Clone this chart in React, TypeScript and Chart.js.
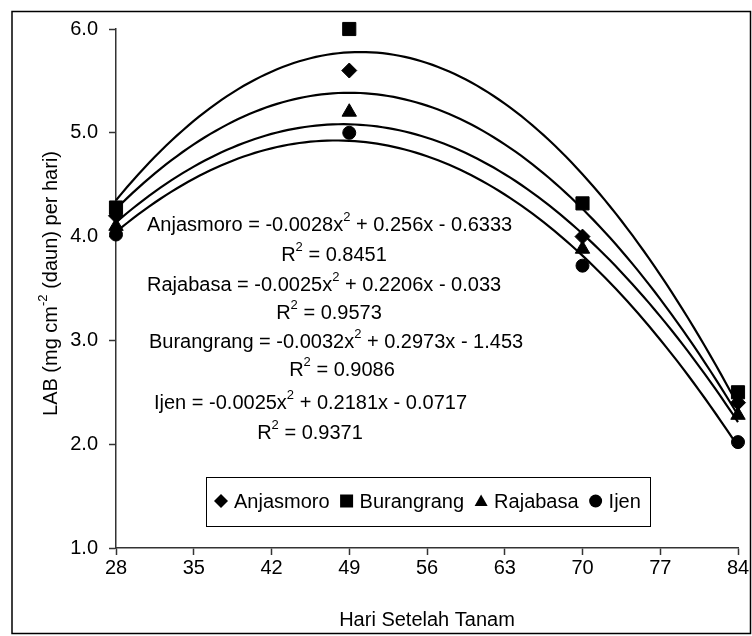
import React, { useEffect, useRef } from 'react';
import { Chart, registerables } from 'chart.js';

Chart.register(...registerables);

// ---- data ----
const days = [28, 49, 70, 84];
const anjasmoro = [4.2, 5.6, 4.0, 2.4];
const burangrang = [4.28, 6.0, 4.32, 2.5];
const rajabasa = [4.1, 5.2, 3.88, 2.28];
const ijen = [4.02, 5.0, 3.72, 2.02];

const seriesNames = ['Anjasmoro', 'Burangrang', 'Rajabasa', 'Ijen'];
const seriesValues = [anjasmoro, burangrang, rajabasa, ijen];
const pointStyles = ['rectRot', 'rect', 'triangle', 'circle'];
const pointRadii = [7.5, 9.3, 8.3, 6.5];

const xTicks = [28, 35, 42, 49, 56, 63, 70, 77, 84];
const yTicks = [1, 2, 3, 4, 5, 6];

// equation annotations as printed in the reference
const eqNames = ['Anjasmoro', 'Rajabasa', 'Burangrang', 'Ijen'];
const eqA = ['-0.0028', '-0.0025', '-0.0032', '-0.0025'];
const eqB = ['0.256', '0.2206', '0.2973', '0.2181'];
const eqC = ['0.6333', '0.033', '1.453', '0.0717'];
const eqR2 = ['0.8451', '0.9573', '0.9086', '0.9371'];

const yTitleMain = 'LAB (mg cm';
const yTitleSup = '-2';
const yTitleEnd = ' (daun) per hari)';
const xTitle = 'Hari Setelah Tanam';

const FONT = '"Liberation Sans", Arial, Helvetica, sans-serif';

// least-squares quadratic fit (Excel polynomial trendline, order 2)
function quadFit(xs: number[], ys: number[]) {
  let s0 = 0, s1 = 0, s2 = 0, s3 = 0, s4 = 0, t0 = 0, t1 = 0, t2 = 0;
  for (let i = 0; i < xs.length; i++) {
    const x = xs[i], y = ys[i];
    s0 += 1; s1 += x; s2 += x * x; s3 += x * x * x; s4 += x * x * x * x;
    t0 += y; t1 += x * y; t2 += x * x * y;
  }
  const M = [
    [s4, s3, s2, t2],
    [s3, s2, s1, t1],
    [s2, s1, s0, t0],
  ];
  for (let c = 0; c < 3; c++) {
    let p = c;
    for (let r = c + 1; r < 3; r++) if (Math.abs(M[r][c]) > Math.abs(M[p][c])) p = r;
    [M[c], M[p]] = [M[p], M[c]];
    for (let r = 0; r < 3; r++) {
      if (r === c) continue;
      const f = M[r][c] / M[c][c];
      for (let k = c; k < 4; k++) M[r][k] -= f * M[c][k];
    }
  }
  const a = M[0][3] / M[0][0], b = M[1][3] / M[1][1], c = M[2][3] / M[2][2];
  return (x: number) => a * x * x + b * x + c;
}

function trendPoints(ys: number[]) {
  const f = quadFit(days, ys);
  const pts: { x: number; y: number }[] = [];
  const x0 = days[0], x1 = days[days.length - 1];
  for (let x = x0; x <= x1 + 1e-9; x += 0.5) pts.push({ x, y: f(x) });
  return pts;
}

type Part = [string, boolean];
function drawParts(ctx: CanvasRenderingContext2D, parts: Part[], x: number, y: number, align: 'left' | 'center') {
  const main = `20px ${FONT}`;
  const sup = `13px ${FONT}`;
  let total = 0;
  const widths = parts.map(([t, s]) => {
    ctx.font = s ? sup : main;
    const w = ctx.measureText(t).width;
    total += w;
    return w;
  });
  let cx = align === 'center' ? x - total / 2 : x;
  ctx.textAlign = 'left';
  ctx.textBaseline = 'middle';
  parts.forEach(([t, s], i) => {
    ctx.font = s ? sup : main;
    ctx.fillText(t, cx, s ? y - 8 : y);
    cx += widths[i];
  });
}

function drawMarker(ctx: CanvasRenderingContext2D, style: string, cx: number, cy: number, size: number) {
  ctx.beginPath();
  const h = size / 2;
  if (style === 'rect') {
    ctx.rect(cx - h, cy - h, size, size);
  } else if (style === 'rectRot') {
    ctx.moveTo(cx - h, cy); ctx.lineTo(cx, cy - h); ctx.lineTo(cx + h, cy); ctx.lineTo(cx, cy + h);
    ctx.closePath();
  } else if (style === 'triangle') {
    ctx.moveTo(cx, cy - h); ctx.lineTo(cx + h, cy + h * 0.75); ctx.lineTo(cx - h, cy + h * 0.75);
    ctx.closePath();
  } else {
    ctx.arc(cx, cy, h, 0, Math.PI * 2);
  }
  ctx.fill();
}

const decorPlugin = {
  id: 'decor',
  beforeDraw(chart: any) {
    const ctx = chart.ctx as CanvasRenderingContext2D;
    ctx.save();
    ctx.fillStyle = '#fff';
    ctx.fillRect(0, 0, chart.width, chart.height);
    ctx.strokeStyle = '#000';
    ctx.lineWidth = 1.5;
    ctx.strokeRect(12, 11.5, 738.5, 622);
    ctx.restore();
  },
  afterDraw(chart: any) {
    const ctx = chart.ctx as CanvasRenderingContext2D;
    const area = chart.chartArea;
    ctx.save();
    ctx.fillStyle = '#000';

    // y axis title with superscript, rotated
    ctx.save();
    ctx.translate(51, (area.top + area.bottom) / 2 - 5);
    ctx.rotate(-Math.PI / 2);
    drawParts(ctx, [[yTitleMain, false], [yTitleSup, true], [yTitleEnd, false]], 0, 0, 'center');
    ctx.restore();

    // equations
    const eqLeft = [147, 147, 149, 154];
    const eqY = [225, 285, 342, 403];
    const r2X = [334, 329, 342, 310];
    const r2Y = [255, 313, 370, 433];
    for (let i = 0; i < eqNames.length; i++) {
      drawParts(ctx, [
        [`${eqNames[i]} = ${eqA[i]}x`, false], ['2', true],
        [` + ${eqB[i]}x - ${eqC[i]}`, false],
      ], eqLeft[i], eqY[i], 'left');
      drawParts(ctx, [['R', false], ['2', true], [` = ${eqR2[i]}`, false]], r2X[i], r2Y[i], 'center');
    }

    // legend box
    const bx = 206.5, by = 477.5, bw = 444, bh = 49;
    ctx.fillStyle = '#fff';
    ctx.fillRect(bx, by, bw, bh);
    ctx.strokeStyle = '#000';
    ctx.lineWidth = 1;
    ctx.strokeRect(bx, by, bw, bh);
    ctx.fillStyle = '#000';
    ctx.font = `20px ${FONT}`;
    ctx.textBaseline = 'middle';
    ctx.textAlign = 'left';
    let x = 214;
    const cy = 501;
    for (let i = 0; i < seriesNames.length; i++) {
      const ms = seriesNames[i] === 'Anjasmoro' ? 14 : 13;
      drawMarker(ctx, pointStyles[i], x + 7, cy, ms);
      x += 14 + 6;
      ctx.font = `20px ${FONT}`;
      ctx.fillText(seriesNames[i], x, cy + 1);
      x += ctx.measureText(seriesNames[i]).width + 10;
    }
    ctx.restore();
  },
};

export default function App() {
  const ref = useRef<HTMLCanvasElement | null>(null);

  useEffect(() => {
    document.body.style.margin = '0';
    const canvas = ref.current;
    if (!canvas) return;

    const pointSets = seriesNames.map((name, i) => ({
      label: name,
      data: days.map((d, j) => ({ x: d, y: seriesValues[i][j] })),
      showLine: false,
      clip: false,
      pointStyle: pointStyles[i],
      pointRadius: pointRadii[i],
      pointBackgroundColor: '#000',
      pointBorderColor: '#000',
      pointBorderWidth: 1,
    }));
    const trendSets = seriesNames.map((name, i) => ({
      label: name + ' trend',
      data: trendPoints(seriesValues[i]),
      showLine: true,
      clip: false,
      pointRadius: 0,
      borderColor: '#000',
      borderWidth: 2.2,
      tension: 0,
      fill: false,
    }));

    const chart = new Chart(canvas, {
      type: 'scatter',
      data: { datasets: [...pointSets, ...trendSets] as any },
      options: {
        animation: false,
        responsive: false,
        devicePixelRatio: 1,
        layout: { padding: { top: 29, right: 14, left: 0, bottom: 0 } },
        plugins: { legend: { display: false }, tooltip: { enabled: false } },
        scales: {
          x: {
            type: 'linear',
            min: 28,
            max: 84,
            afterFit: (s: any) => { s.height = 88; },
            afterBuildTicks: (s: any) => { s.ticks = xTicks.map((v) => ({ value: v })); },
            ticks: { color: '#000', font: { family: FONT, size: 20 }, padding: 1, maxRotation: 0 },
            grid: { drawOnChartArea: false, drawTicks: true, tickLength: 7, tickColor: '#333', tickWidth: 1.5 },
            border: { display: true, color: '#333', width: 1.5 },
            title: { display: true, text: xTitle, color: '#000', font: { family: FONT, size: 20 }, padding: { top: 0, bottom: 4 } },
          },
          y: {
            type: 'linear',
            min: 1,
            max: 6,
            afterFit: (s: any) => { s.width = 116; },
            afterBuildTicks: (s: any) => { s.ticks = yTicks.map((v) => ({ value: v })); },
            ticks: { color: '#000', font: { family: FONT, size: 20 }, padding: 11, callback: (v: any) => Number(v).toFixed(1) },
            grid: { drawOnChartArea: false, drawTicks: true, tickLength: 7, tickColor: '#333', tickWidth: 1.5 },
            border: { display: true, color: '#333', width: 1.5 },
          },
        },
      },
      plugins: [decorPlugin],
    });
    return () => chart.destroy();
  }, []);

  return (
    <div style={{ width: 752, height: 636, position: 'relative' }}>
      <canvas ref={ref} width={752} height={636} style={{ display: 'block', width: 752, height: 636 }} />
    </div>
  );
}
